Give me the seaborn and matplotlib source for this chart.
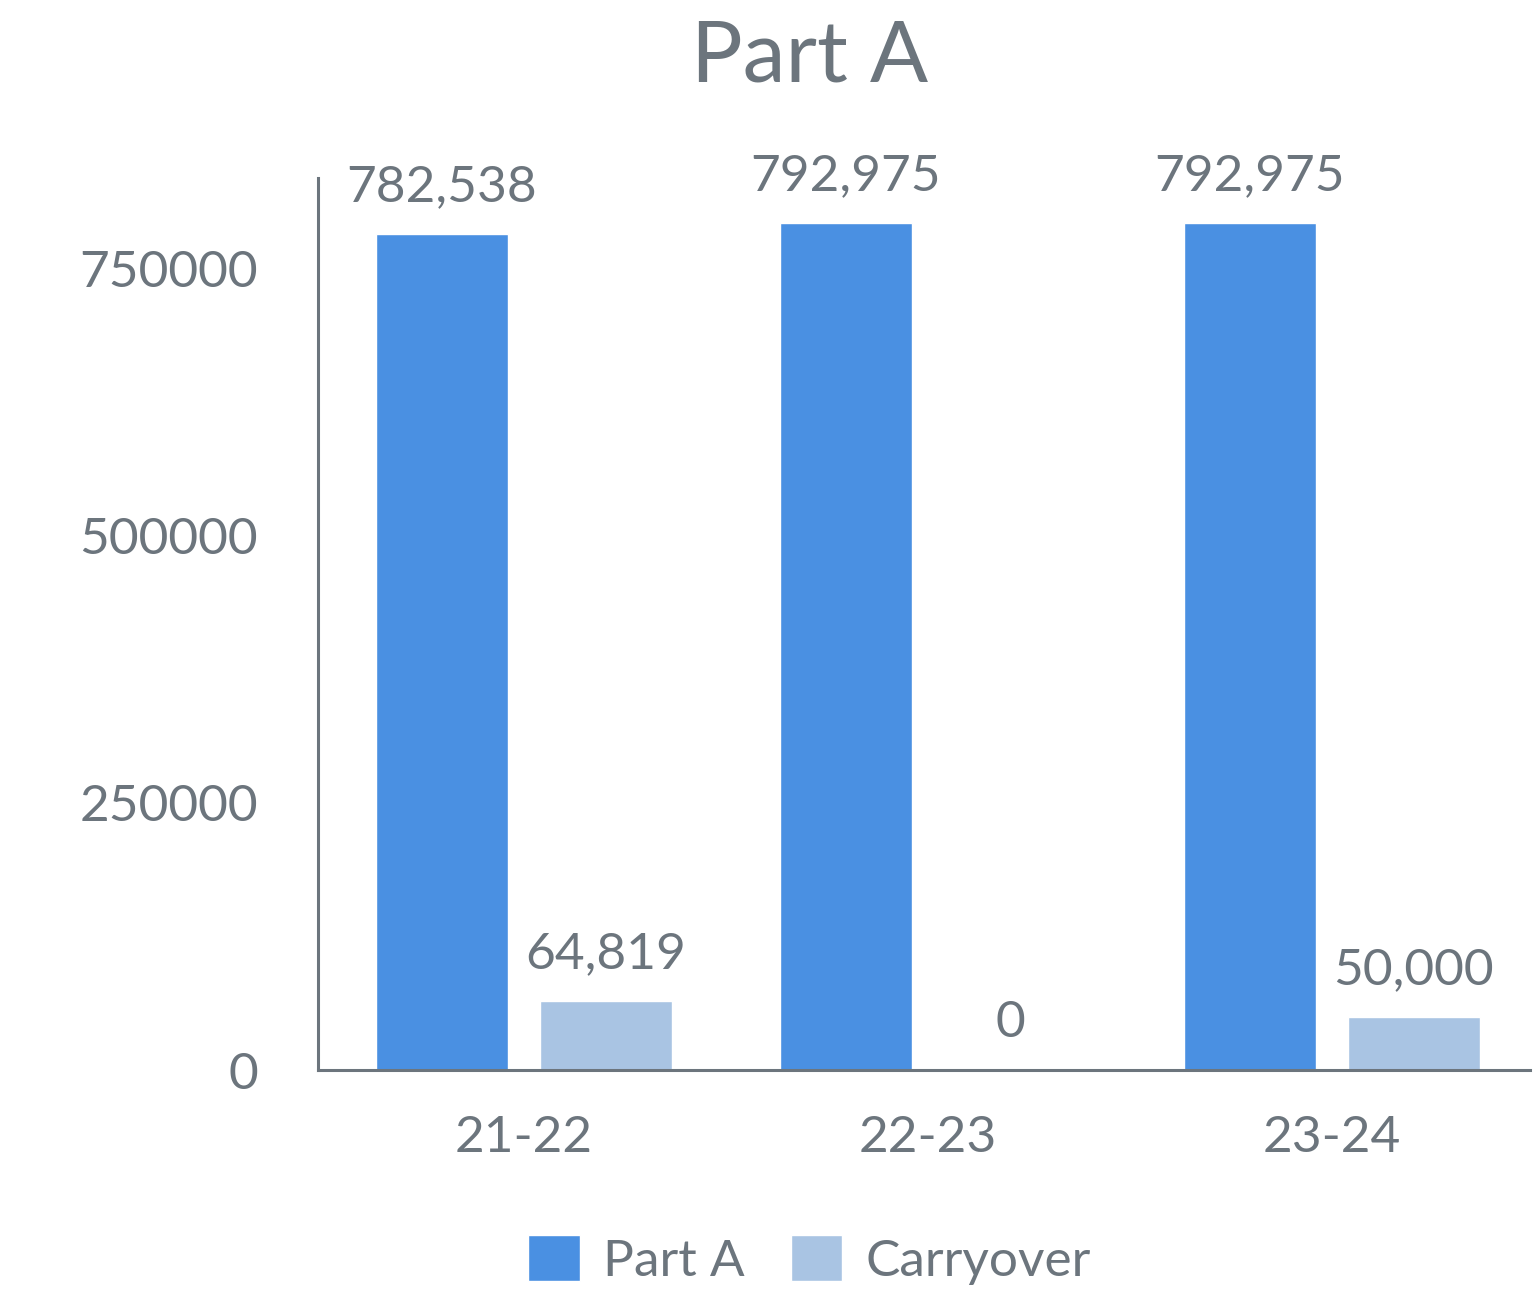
import matplotlib
matplotlib.use("Agg")
import matplotlib.pyplot as plt
import seaborn as sns
import pandas as pd

categories = ["21-22", "22-23", "23-24"]
series_names = ["Part A", "Carryover"]
part_a = [782538, 792975, 792975]
carryover = [64819, 0, 50000]
y_ticks = [0, 250000, 500000, 750000]

TEXT = "#6C757D"
COLORS = ["#4A90E2", "#A9C4E3"]

df = pd.DataFrame({
    "year": categories * 2,
    "series": [series_names[0]] * 3 + [series_names[1]] * 3,
    "value": part_a + carryover,
})

sns.set_theme(style="white")
plt.rcParams["font.family"] = ["Lato", "DejaVu Sans"]
plt.rcParams["text.color"] = TEXT

fig = plt.figure(figsize=(15.36, 12.95), dpi=100)
ax = fig.add_axes([0.207, 0.1737, 0.789, 0.6888])

sns.barplot(data=df, x="year", y="value", hue="series", palette=COLORS,
            width=0.812, gap=0.195, ax=ax, saturation=1, legend=True)

ax.set_xlim(-0.51, 2.49)
ax.set_ylim(0, 835000)
ax.set_yticks(y_ticks)
ax.set_yticklabels([str(v) for v in y_ticks])
ax.set_xlabel("")
ax.set_ylabel("")
ax.tick_params(axis="y", length=0, pad=43, labelsize=37, labelcolor=TEXT)
ax.tick_params(axis="x", length=0, pad=32, labelsize=37, labelcolor=TEXT)

for s in ["top", "right"]:
    ax.spines[s].set_visible(False)
for s in ["left", "bottom"]:
    ax.spines[s].set_color(TEXT)
    ax.spines[s].set_linewidth(2.2)

for cont in ax.containers:
    ax.bar_label(cont, fmt="{:,.0f}", padding=17, fontsize=37, color=TEXT)

handles, labels = ax.get_legend_handles_labels()
ax.get_legend().remove()
fig.legend(handles, labels, loc="center", bbox_to_anchor=(0.527, 1 - 1260 / 1295),
           ncol=2, frameon=False, fontsize=37, handlelength=1.0, handleheight=1.0,
           handletextpad=0.45, columnspacing=0.9, labelcolor=TEXT)

fig.suptitle("Part A", x=0.527, y=1 - 57 / 1295, va="center", fontsize=62, color=TEXT)

fig.savefig("out.png", dpi=100, facecolor="white")
